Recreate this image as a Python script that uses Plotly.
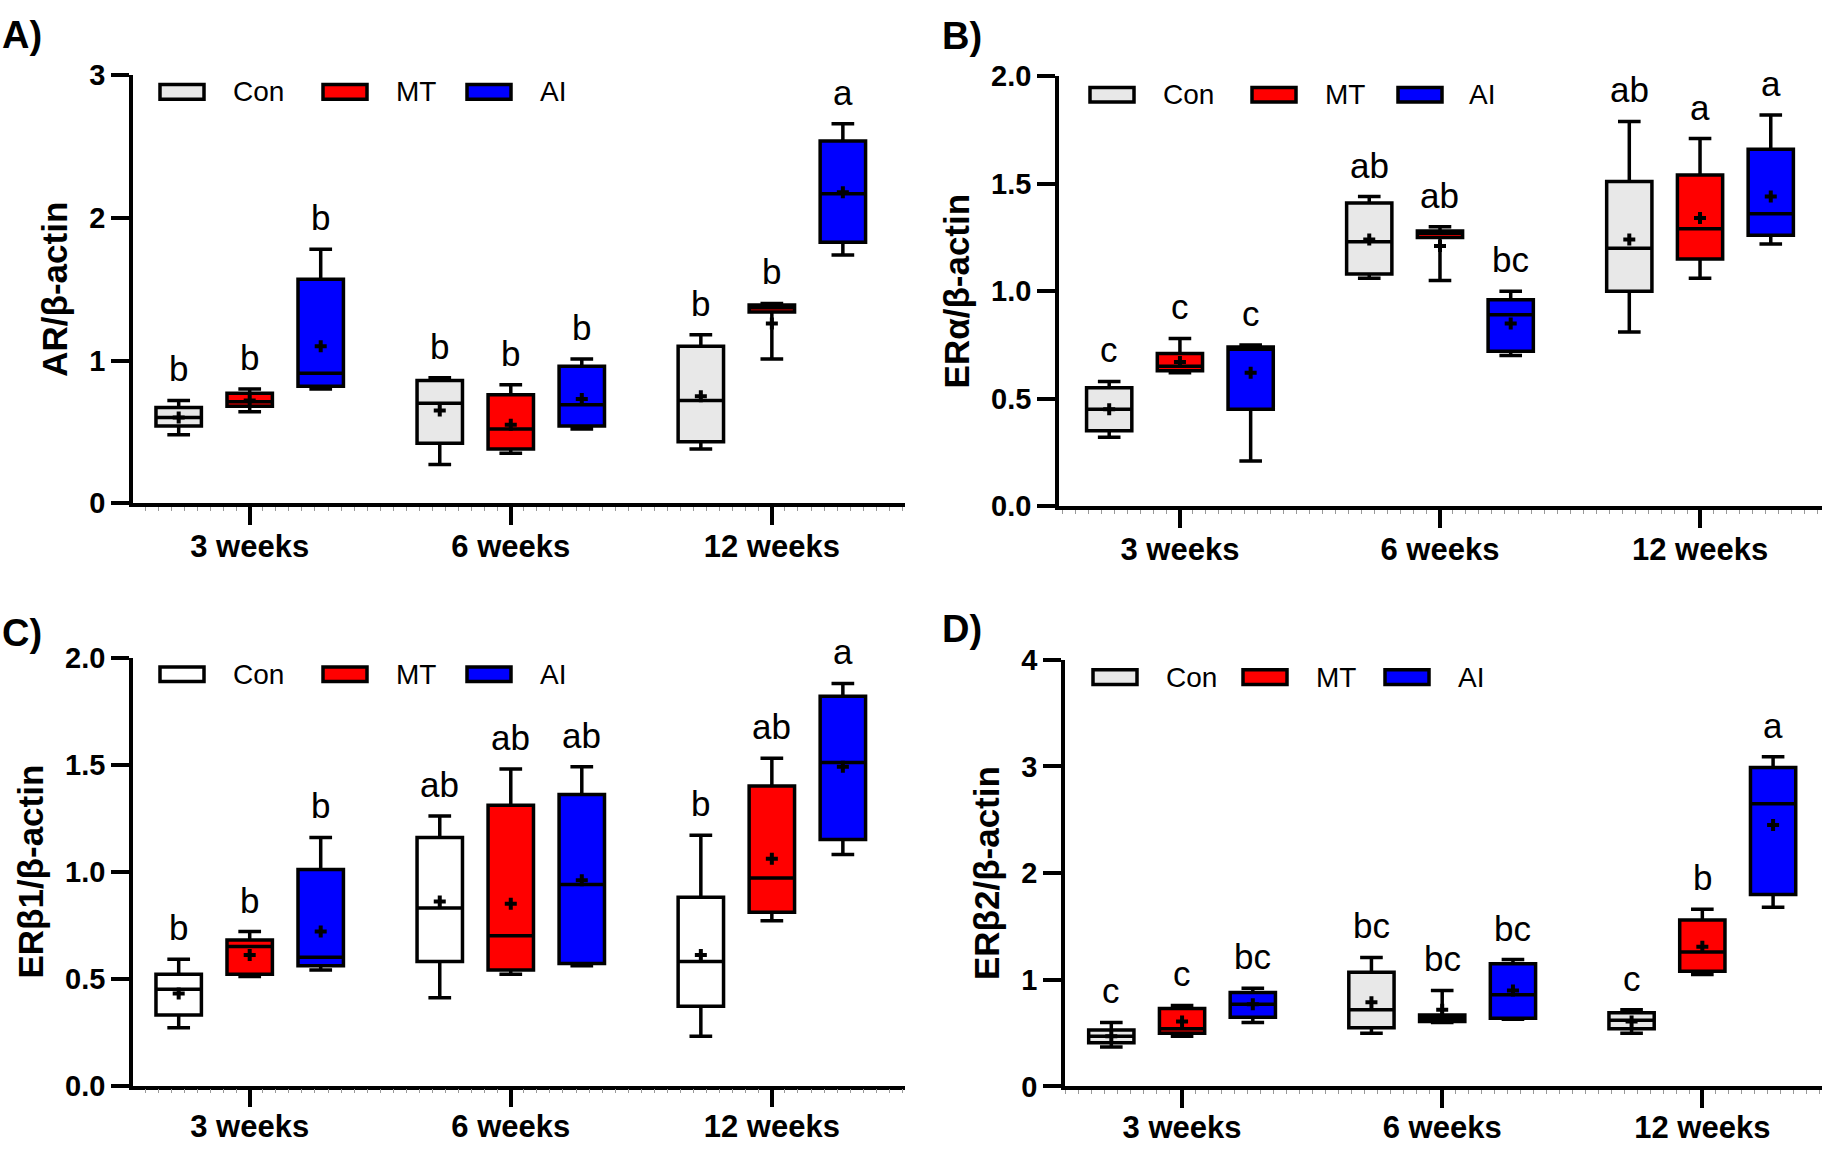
import plotly.graph_objects as go

W, H = 1827, 1155
FONT = "Liberation Sans, Arial, sans-serif"

weeks = ["3 weeks", "6 weeks", "12 weeks"]
groups = ["Con", "MT", "AI"]

# ---- Panel A: AR/beta-actin  (rows: Con, MT, AI ; cols: 3, 6, 12 weeks)
AR_lo   = [[0.48, 0.27, 0.38], [0.64, 0.35, 1.01], [0.80, 0.52, 1.74]]
AR_q1   = [[0.54, 0.42, 0.43], [0.68, 0.38, 1.34], [0.82, 0.54, 1.83]]
AR_med  = [[0.60, 0.70, 0.72], [0.71, 0.52, 1.37], [0.91, 0.69, 2.17]]
AR_q3   = [[0.67, 0.86, 1.10], [0.77, 0.76, 1.39], [1.57, 0.96, 2.54]]
AR_hi   = [[0.72, 0.88, 1.18], [0.80, 0.83, 1.40], [1.78, 1.01, 2.66]]
AR_mean = [[0.60, 0.65, 0.75], [0.72, 0.55, 1.26], [1.10, 0.73, 2.18]]
AR_let  = [["b", "b", "b"], ["b", "b", "b"], ["b", "b", "a"]]

# ---- Panel B: ERalpha/beta-actin
ERa_lo   = [[0.32, 1.06, 0.81], [0.62, 1.05, 1.06], [0.21, 0.70, 1.22]]
ERa_q1   = [[0.35, 1.08, 1.00], [0.63, 1.25, 1.15], [0.45, 0.72, 1.26]]
ERa_med  = [[0.45, 1.23, 1.20], [0.65, 1.27, 1.29], [0.73, 0.89, 1.36]]
ERa_q3   = [[0.55, 1.41, 1.51], [0.71, 1.28, 1.54], [0.74, 0.96, 1.66]]
ERa_hi   = [[0.58, 1.44, 1.79], [0.78, 1.30, 1.71], [0.75, 1.00, 1.82]]
ERa_mean = [[0.45, 1.24, 1.24], [0.67, 1.21, 1.34], [0.62, 0.85, 1.44]]
ERa_let  = [["c", "ab", "ab"], ["c", "ab", "a"], ["c", "bc", "a"]]

# ---- Panel C: ERbeta1/beta-actin
ERb1_lo   = [[0.27, 0.41, 0.23], [0.51, 0.52, 0.77], [0.54, 0.56, 1.08]]
ERb1_q1   = [[0.33, 0.58, 0.37], [0.52, 0.54, 0.81], [0.56, 0.57, 1.15]]
ERb1_med  = [[0.45, 0.83, 0.58], [0.65, 0.70, 0.97], [0.60, 0.94, 1.51]]
ERb1_q3   = [[0.52, 1.16, 0.88], [0.68, 1.31, 1.40], [1.01, 1.36, 1.82]]
ERb1_hi   = [[0.59, 1.26, 1.17], [0.72, 1.48, 1.53], [1.16, 1.49, 1.88]]
ERb1_mean = [[0.43, 0.86, 0.61], [0.61, 0.85, 1.06], [0.72, 0.96, 1.49]]
ERb1_let  = [["b", "ab", "b"], ["b", "ab", "ab"], ["b", "ab", "a"]]

# ---- Panel D: ERbeta2/beta-actin
ERb2_lo   = [[0.37, 0.50, 0.50], [0.47, 0.60, 1.05], [0.60, 0.63, 1.68]]
ERb2_q1   = [[0.41, 0.55, 0.54], [0.50, 0.61, 1.08], [0.65, 0.64, 1.80]]
ERb2_med  = [[0.47, 0.72, 0.62], [0.54, 0.64, 1.26], [0.77, 0.86, 2.65]]
ERb2_q3   = [[0.53, 1.07, 0.69], [0.73, 0.67, 1.56], [0.88, 1.15, 2.99]]
ERb2_hi   = [[0.60, 1.21, 0.72], [0.76, 0.90, 1.66], [0.92, 1.19, 3.09]]
ERb2_mean = [[0.47, 0.79, 0.61], [0.61, 0.72, 1.31], [0.77, 0.90, 2.45]]
ERb2_let  = [["c", "bc", "c"], ["c", "bc", "b"], ["bc", "bc", "a"]]

COL_MT, COL_AI = "#ff0000", "#0000ff"

def px_x(p):
    return p / W

def px_y(p):
    return 1 - p / H

panels = [
    dict(name="A)", title="AR/β-actin", lo=AR_lo, q1=AR_q1, med=AR_med, q3=AR_q3, hi=AR_hi,
         mean=AR_mean, let=AR_let, con_fill="#e8e8e8",
         xpx=(133, 905), ypx=(501, 61), xr=(-0.447, 2.51), yr=(0, 3), dtick=1, fmt="d",
         lab=(0, 20), sw=[160, 323, 467], tx=[231, 394, 538], yc=78, xstand=-5),
    dict(name="B)", title="ERα/β-actin", lo=ERa_lo, q1=ERa_q1, med=ERa_med, q3=ERa_q3, hi=ERa_hi,
         mean=ERa_mean, let=ERa_let, con_fill="#e8e8e8",
         xpx=(1059, 1822), ypx=(504, 62), xr=(-0.465, 2.469), yr=(0, 2), dtick=0.5, fmt=".1f",
         lab=(940, 21), sw=[1090, 1252, 1398], tx=[1161, 1323, 1467], yc=81, xstand=-5),
    dict(name="C)", title="ERβ1/β-actin", lo=ERb1_lo, q1=ERb1_q1, med=ERb1_med, q3=ERb1_q3, hi=ERb1_hi,
         mean=ERb1_mean, let=ERb1_let, con_fill="#ffffff",
         xpx=(133, 905), ypx=(1100, 660), xr=(-0.447, 2.51), yr=(0, 2), dtick=0.5, fmt=".1f",
         lab=(0, 635), sw=[160, 323, 467], tx=[231, 394, 538], yc=677, xstand=-7),
    dict(name="D)", title="ERβ2/β-actin", lo=ERb2_lo, q1=ERb2_q1, med=ERb2_med, q3=ERb2_q3, hi=ERb2_hi,
         mean=ERb2_mean, let=ERb2_let, con_fill="#e8e8e8",
         xpx=(1065, 1822), ypx=(1101, 662), xr=(-0.45, 2.46), yr=(0, 4), dtick=1, fmt="d",
         lab=(940, 630), sw=[1093, 1243, 1385], tx=[1164, 1314, 1456], yc=680, xstand=-7),
]

offsets = [-0.272, 0.0, 0.272]
BOXW = 0.174

fig = go.Figure()
annotations = []
shapes = []
layout = {}

for i, p in enumerate(panels):
    n = "" if i == 0 else str(i + 1)
    xa, ya = "x" + n, "y" + n
    fills = [p["con_fill"], COL_MT, COL_AI]
    for g in range(3):
        xs = [k + offsets[g] for k in range(len(weeks))]
        fig.add_trace(go.Box(
            x=xs, lowerfence=p["lo"][g], q1=p["q1"][g], median=p["med"][g],
            q3=p["q3"][g], upperfence=p["hi"][g],
            width=BOXW, whiskerwidth=0.5, fillcolor=fills[g],
            line=dict(color="black", width=3.5), name=groups[g],
            boxpoints=False, showlegend=False, xaxis=xa, yaxis=ya,
        ))
        fig.add_trace(go.Scatter(
            x=xs, y=p["mean"][g], mode="markers",
            marker=dict(symbol="cross", size=10, color="black"),
            showlegend=False, xaxis=xa, yaxis=ya, hoverinfo="skip",
        ))
        for k in range(len(weeks)):
            annotations.append(dict(
                x=xs[k], y=p["hi"][g][k], xref=xa, yref=ya, text=p["let"][g][k],
                showarrow=False, yanchor="bottom", yshift=10,
                font=dict(family=FONT, size=35, color="black"),
            ))
        # legend swatch + label
        sx = p["sw"][g]
        shapes.append(dict(type="rect", xref="paper", yref="paper",
                           x0=px_x(sx), x1=px_x(sx + 44),
                           y0=px_y(p["yc"] + 7.5), y1=px_y(p["yc"] - 7.5),
                           fillcolor=fills[g], line=dict(color="black", width=3.5)))
        annotations.append(dict(x=px_x(p["tx"][g]), y=px_y(p["yc"]), xref="paper", yref="paper",
                                text=groups[g], showarrow=False, xanchor="left", yanchor="middle",
                                font=dict(family=FONT, size=28, color="black")))
    annotations.append(dict(x=px_x(p["lab"][0]), y=px_y(p["lab"][1]), xref="paper", yref="paper",
                            text=p["name"], showarrow=False, xanchor="left", yanchor="middle",
                            font=dict(family=FONT, size=38, color="black", weight=700)))

    layout["xaxis" + n] = dict(
        domain=[px_x(p["xpx"][0]), px_x(p["xpx"][1])], range=list(p["xr"]),
        anchor=ya, tickmode="array", tickvals=list(range(len(weeks))), ticktext=weeks,
        showline=True, linecolor="black", linewidth=3.5, ticks="outside", ticklen=18,
        tickwidth=3.5, tickcolor="black", showgrid=False, zeroline=False,
        ticklabelstandoff=p["xstand"],
        tickfont=dict(family=FONT, size=31, color="black", weight=700),
        minor=dict(ticks="outside", ticklen=4, tickwidth=1, tickcolor="#999999",
                   tickmode="linear", tick0=0, dtick=0.05, showgrid=False),
    )
    layout["yaxis" + n] = dict(
        domain=[px_y(p["ypx"][0]), px_y(p["ypx"][1])], range=list(p["yr"]),
        anchor=xa, tickmode="linear", tick0=0, dtick=p["dtick"], tickformat=p["fmt"],
        showline=True, linecolor="black", linewidth=3.5, ticks="outside", ticklen=18,
        tickwidth=3.5, tickcolor="black", showgrid=False, zeroline=False,
        tickfont=dict(family=FONT, size=29, color="black", weight=700),
        title=dict(text=p["title"], font=dict(family=FONT, size=35, color="black", weight=700),
                   standoff=12),
    )

fig.update_layout(
    width=W, height=H, margin=dict(l=0, r=0, t=0, b=0),
    paper_bgcolor="white", plot_bgcolor="white",
    annotations=annotations, shapes=shapes, showlegend=False,
    font=dict(family=FONT, color="black"),
    **layout,
)

fig.write_html("out.html", config={"displayModeBar": False},
               post_script="document.body.style.margin='0px';document.body.style.overflow='hidden';")
